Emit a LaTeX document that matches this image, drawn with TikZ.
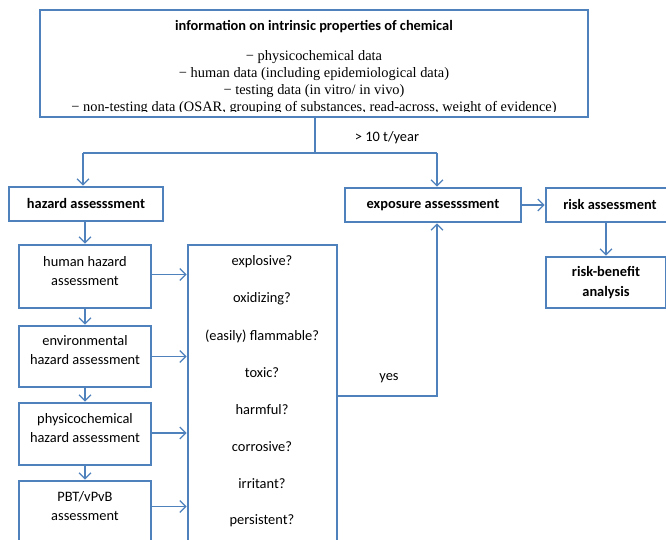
\documentclass[tikz,border=0pt]{standalone}
\usepackage{fontspec}
\setmainfont{Carlito}
\newfontfamily\timesf{Liberation Serif}
\usetikzlibrary{arrows.meta}
\definecolor{bl}{RGB}{79,129,189}
\begin{document}
\begin{tikzpicture}[x=1pt,y=-1pt,
  box/.style={draw=bl, line width=2.6pt, rectangle, inner sep=0pt, align=center, font=\fontsize{14.4}{19}\selectfont},
  bbox/.style={box, font=\bfseries\fontsize{14.4}{20}\selectfont},
  conn/.style={draw=bl, line width=1.3pt},
  arr/.style={conn, -{Straight Barb[length=6pt,width=12pt]}},
  lab/.style={inner sep=0pt, align=center, font=\fontsize{14.4}{19}\selectfont}]
\clip (0,0) rectangle (666,540);
\fill[white] (0,0) rectangle (666,540);

% top box
\node[lab, font=\bfseries\fontsize{14.4}{16}\selectfont] (title) at (314,27) {information on intrinsic properties of chemical};
\begin{scope}
\clip (40,10) rectangle (588,111.5);
\node[lab, font=\timesf\fontsize{14.4}{17}\selectfont] (data) at (314,82.5) {− physicochemical data\\− human data (including epidemiological data)\\− testing data (in vitro/ in vivo)\\− non-testing data (OSAR, grouping of substances, read-across, weight of evidence)};
\end{scope}
\node[box, minimum width=548pt, minimum height=107pt] (top) at (314,63.5) {};

% second row
\node[bbox, minimum width=154pt, minimum height=34pt] (haz) at (86,204) {hazard assesssment};
\node[bbox, minimum width=176pt, minimum height=34pt] (exp) at (433,205) {exposure assesssment};
\node[bbox, minimum width=128pt, minimum height=34pt] (risk) at (610,205) {risk assessment};
\node[bbox, minimum width=120pt, minimum height=51pt] (rb) at (606,282.5) {risk-benefit\\analysis};

\coordinate (jm) at (315,153);
\coordinate (jl) at (83,153);
\coordinate (jr) at (437,153);
\draw[conn] (top.south -| jm) -- (jm);
\draw[conn] (jl) -- (jr);
\draw[arr] (jl) -- (jl |- haz.north);
\draw[arr] (jr) -- (jr |- exp.north);
\node[lab] (t10) at (387,138) {> 10 t/year};
\draw[arr] (exp.east) -- (risk.west);
\draw[arr] (risk.south -| rb.center) -- (rb.north);

% left column
\node[box, minimum width=132pt, minimum height=63pt] (hh) at (85,276.5) {};
\node[lab] (hhT) at (85,271.5) {human hazard\\assessment};
\node[box, minimum width=132pt, minimum height=61pt] (env) at (85,356.5) {};
\node[lab] (envT) at (85,350.5) {environmental\\hazard assessment};
\node[box, minimum width=132pt, minimum height=62pt] (phys) at (85,434) {};
\node[lab] (physT) at (85,428.5) {physicochemical\\hazard assessment};
\node[box, minimum width=132pt, minimum height=89pt] (pbt) at (85,525.5) {};
\node[lab] (pbtT) at (85,506.5) {PBT/vPvB\\assessment};

\draw[arr] (hh.north |- haz.south) -- (hh.north);
\draw[arr] (hh.south) -- (env.north);
\draw[arr] (env.south) -- (phys.north);
\draw[arr] (phys.south) -- (pbt.north);

% big box
\node[box, minimum width=149pt, minimum height=325pt] (big) at (262.5,407.5) {};
\node[lab] (q1) at (262,262) {explosive?};
\node[lab] (q2) at (262,299) {oxidizing?};
\node[lab] (q3) at (262,336) {(easily) flammable?};
\node[lab] (q4) at (262,373) {toxic?};
\node[lab] (q5) at (262,410) {harmful?};
\node[lab] (q6) at (262,446.5) {corrosive?};
\node[lab] (q7) at (262,483.5) {irritant?};
\node[lab] (q8) at (262,520.5) {persistent?};

\draw[arr] ([yshift=2pt]hh.east) -- ([yshift=2pt]hh.east -| big.west);
\draw[arr] (env.east) -- (env.east -| big.west);
\draw[arr] ([yshift=1pt]phys.east) -- ([yshift=1pt]phys.east -| big.west);
\draw[arr] (pbt.east |- pbtT) -- (big.west |- pbtT);

\coordinate (yc) at (437,396);
\draw[arr] (big.east |- yc) -- (yc) -- (yc |- exp.south);
\node[lab] (yes) at (389,378) {yes};
\end{tikzpicture}
\end{document}
